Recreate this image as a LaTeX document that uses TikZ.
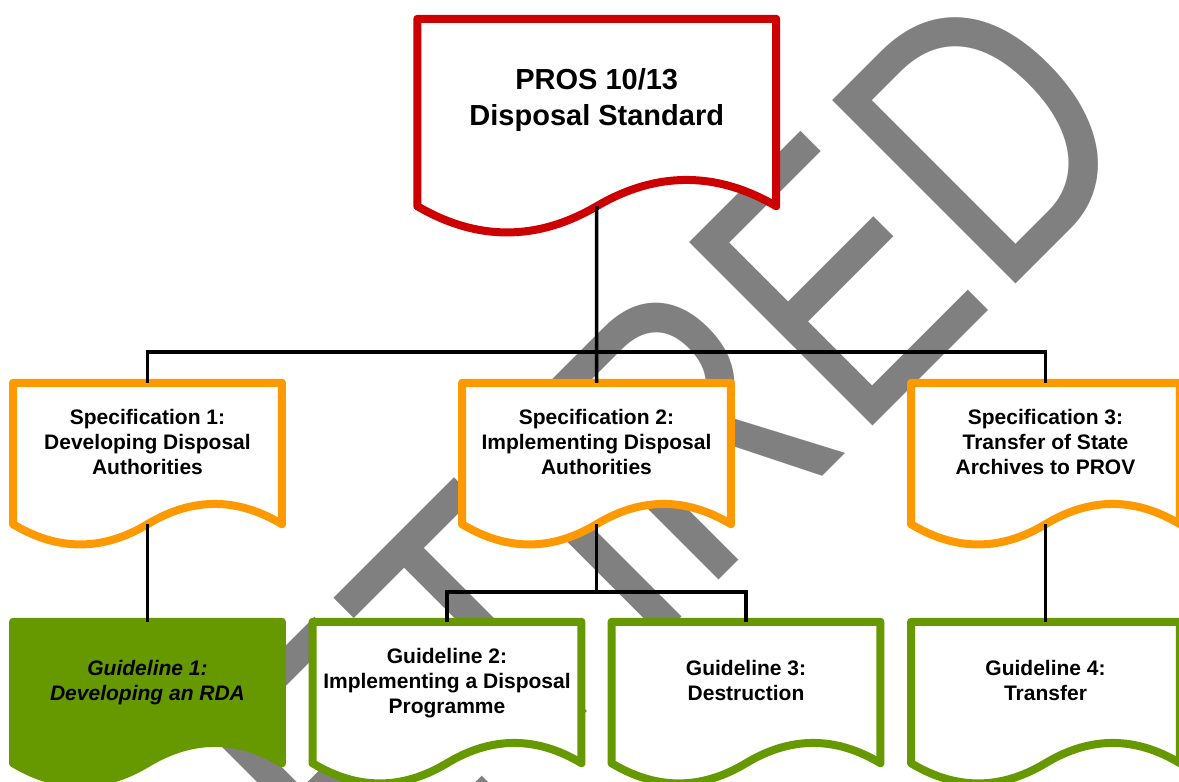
\documentclass[tikz,border=0pt]{standalone}
\usepackage{fontspec}
\setmainfont{Liberation Sans}
\usepackage{graphicx}
\usetikzlibrary{calc}

\definecolor{stdred}{RGB}{204,0,0}
\definecolor{specorange}{RGB}{255,153,0}
\definecolor{guidegreen}{RGB}{102,153,0}

\tikzset{
  docbox/.style={rectangle, inner sep=0pt, minimum width=268.5pt, minimum height=141pt},
  titlebox/.style={docbox, minimum width=358.5pt, minimum height=187pt},
  doctext/.style={align=center, text depth=0pt, font=\bfseries\fontsize{21}{25}\selectfont},
  titletext/.style={doctext, font=\bfseries\fontsize{29}{36}\selectfont},
  docline/.style={line width=8pt, line join=round, fill=white},
  link/.style={line width=3.5pt}
}

% контур документа с волнистым низом: #1 узел, #2 высота волны, #3 цвета
\newcommand{\docshape}[3]{%
  \draw[docline,#3] (#1.north west) -- (#1.north east) -- (#1.south east)
    .. controls ($(#1.south east)!1/3!(#1.south)+(0,#2)$) and ($(#1.south east)!2/3!(#1.south)+(0,#2)$) .. (#1.south)
    .. controls ($(#1.south)!1/3!(#1.south west)+(0,-#2)$) and ($(#1.south)!2/3!(#1.south west)+(0,-#2)$) .. (#1.south west)
    -- cycle;}

\begin{document}
\begin{tikzpicture}[x=1pt,y=1pt]
\useasboundingbox (0,0) rectangle (1179,782);

\node[text=gray, inner sep=0pt, rotate=45, anchor=base, font=\fontsize{377}{377}\selectfont] (stamp) at (684,167) {\scalebox{0.8}[1]{RETIRED}}; % водяной знак

\node[titlebox] (title) at (596.75,669.5) {}; % стандарт
\docshape{title}{35}{draw=stdred}
\node[titletext] (titletxt) at ([yshift=15pt]title.center) {PROS 10/13\\Disposal Standard};

\node[docbox] (spec1) at (147.5,328.5) {}; % спецификации
\node[docbox] (spec2) at (596.5,328.5) {};
\node[docbox] (spec3) at (1045.5,328.5) {};
\docshape{spec1}{27}{draw=specorange}
\docshape{spec2}{27}{draw=specorange}
\docshape{spec3}{27}{draw=specorange}
\node[doctext] (spec1txt) at ([yshift=12pt]spec1.center) {Specification 1:\\Developing Disposal\\Authorities};
\node[doctext] (spec2txt) at ([yshift=12pt]spec2.center) {Specification 2:\\Implementing Disposal\\Authorities};
\node[doctext] (spec3txt) at ([yshift=12pt]spec3.center) {Specification 3:\\Transfer of State\\Archives to PROV};

\node[docbox] (guide1) at (147.5,89.5) {}; % руководства
\node[docbox] (guide2) at (447,89.5) {};
\node[docbox] (guide3) at (746,89.5) {};
\node[docbox] (guide4) at (1045.5,89.5) {};
\docshape{guide1}{27}{draw=guidegreen, fill=guidegreen}
\docshape{guide2}{27}{draw=guidegreen}
\docshape{guide3}{27}{draw=guidegreen}
\docshape{guide4}{27}{draw=guidegreen}
\node[doctext, font=\bfseries\itshape\fontsize{21}{25}\selectfont] (guide1txt) at ([yshift=12pt]guide1.center) {Guideline 1:\\Developing an RDA};
\node[doctext] (guide2txt) at ([yshift=12pt]guide2.center) {Guideline 2:\\Implementing a Disposal\\Programme};
\node[doctext] (guide3txt) at ([yshift=12pt]guide3.center) {Guideline 3:\\Destruction};
\node[doctext] (guide4txt) at ([yshift=12pt]guide4.center) {Guideline 4:\\Transfer};

\coordinate (bus) at (596.5,430); % общая шина
\coordinate (split) at (596.5,190);
\draw[link] (title.south) -- (spec2.north);
\draw[link] (spec1.north) |- (bus) -| (spec3.north);
\draw[link] (spec1.south) -- (guide1.north);
\draw[link] (spec3.south) -- (guide4.north);
\draw[link] (spec2.south) -- (split);
\draw[link] (guide2.north) |- (split) -| (guide3.north);

\end{tikzpicture}
\end{document}
